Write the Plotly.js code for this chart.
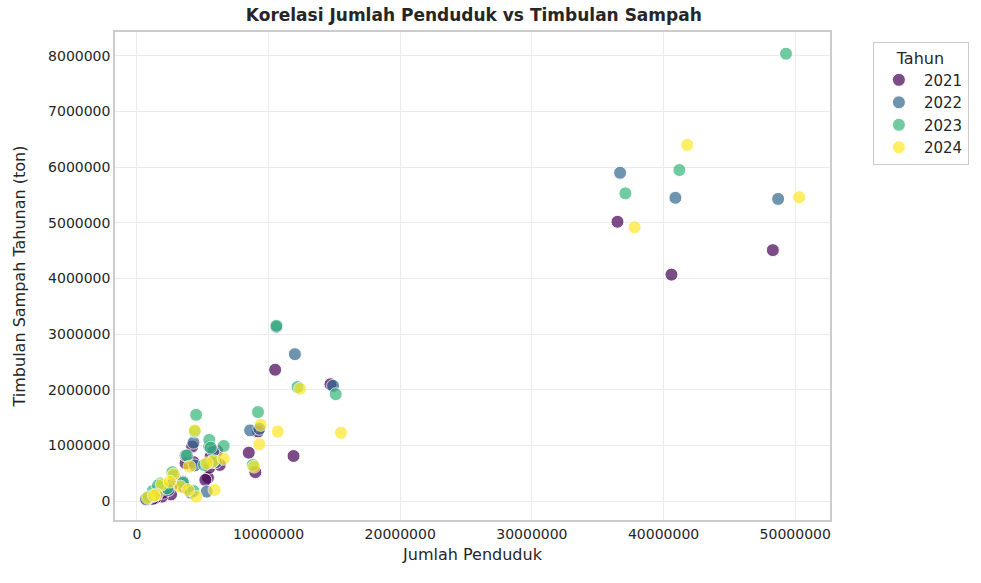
<!DOCTYPE html><html><head><script src="https://cdn.plot.ly/plotly-3.0.1.min.js"></script></head><body style="margin:0"><div id="c" style="width:981px;height:583px"></div><script>
const years=["2021","2022","2023","2024"];
const colors=["#440154","#31688e","#35b779","#fde725"];
const pop2021=[36500000,40600000,48300000,10500000,11900000,14700000,8500000,9000000,9200000,5400000,5500000,6300000,4200000,3700000,2700000,2600000,1900000,1400000,1200000,800000,700000,5200000,4300000,3600000,2000000,1100000,6100000,5600000];
const waste2021=[5020000,4070000,4510000,2360000,810000,2100000,870000,520000,1250000,420000,600000,650000,980000,680000,300000,120000,80000,60000,40000,50000,30000,380000,700000,250000,150000,90000,900000,800000];
const pop2022=[36700000,40900000,48700000,10600000,12000000,14900000,8600000,9300000,4300000,5500000,5300000,3700000,2800000,1900000,1300000,900000,700000,4400000,3500000,2400000,5800000,1600000,4100000,6000000];
const waste2022=[5900000,5450000,5430000,3130000,2640000,2070000,1270000,1300000,1050000,980000,170000,820000,450000,250000,100000,60000,40000,640000,350000,200000,900000,150000,150000,700000];
const pop2023=[49300000,41200000,37100000,10600000,12200000,15100000,9200000,8800000,4500000,5500000,5600000,6600000,3800000,2700000,1800000,1200000,900000,4400000,3500000,2300000,5700000,4300000,1600000,5100000];
const waste2023=[8040000,5950000,5530000,3150000,2050000,1920000,1600000,650000,1550000,1100000,960000,990000,820000,520000,320000,180000,80000,1250000,330000,230000,700000,180000,280000,650000];
const pop2024=[41800000,50300000,37800000,12400000,10700000,15500000,9300000,9400000,8900000,4400000,5800000,6600000,4000000,2800000,1900000,1500000,800000,4500000,3300000,5900000,5300000,2500000,1300000,3900000];
const waste2024=[6400000,5460000,4920000,2020000,1250000,1230000,1020000,1370000,620000,1270000,720000,760000,620000,480000,300000,120000,60000,80000,260000,200000,680000,350000,100000,200000];
const P=[pop2021,pop2022,pop2023,pop2024],W=[waste2021,waste2022,waste2023,waste2024];
const data=years.map((y,i)=>({type:"scatter",mode:"markers",name:y,x:P[i],y:W[i],
marker:{color:colors[i],opacity:0.7,size:13,line:{color:"white",width:1}}}));
const ax={showline:true,mirror:true,linecolor:"#cccccc",linewidth:1.5,gridcolor:"#ebebeb",zeroline:false,tickformat:"d",ticks:"",tickfont:{size:14,color:"#262626"}};
Plotly.newPlot("c",data,{width:981,height:583,font:{family:"DejaVu Sans",color:"#262626"},
paper_bgcolor:"white",plot_bgcolor:"white",
margin:{l:115,r:146,t:32,b:63},
title:{text:"<b>Korelasi Jumlah Penduduk vs Timbulan Sampah</b>",font:{size:17},x:0.483,y:0.985,yanchor:"top"},
xaxis:Object.assign({},ax,{range:[-1660000,52640000],dtick:10000000,title:{text:"Jumlah Penduduk",font:{size:16},standoff:8}}),
yaxis:Object.assign({},ax,{range:[-340000,8430000],dtick:1000000,title:{text:"Timbulan Sampah Tahunan (ton)",font:{size:16},standoff:18}}),
legend:{x:1.06,y:0.98,xanchor:"left",yanchor:"top",bordercolor:"#cccccc",borderwidth:1,font:{size:15},itemwidth:40,title:{text:"Tahun",font:{size:16},side:"top center"}}
},{displayModeBar:false});
</script></body></html>
